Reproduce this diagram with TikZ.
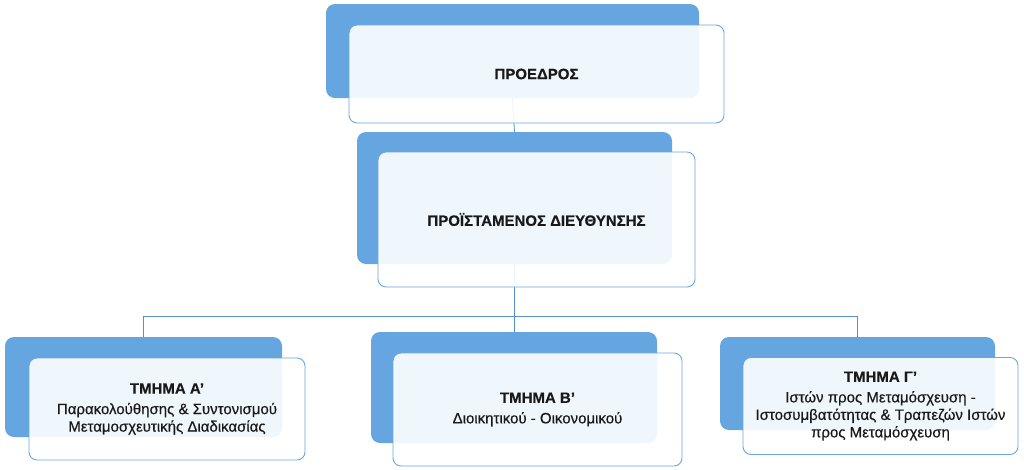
\documentclass[tikz,border=0pt]{standalone}
\usepackage{fontspec}
\setmainfont{Liberation Sans}
\newfontfamily\medfont[FakeBold=0.4]{Liberation Sans}
\usetikzlibrary{calc}

\definecolor{backblue}{RGB}{101,166,225}
\definecolor{edgeblue}{RGB}{108,166,222}
\definecolor{lineblue}{RGB}{84,146,206}
\definecolor{textgray}{RGB}{25,25,25}

\begin{document}
\begin{tikzpicture}[x=1pt,y=-1pt,
    backbox/.style={fill=backblue,rounded corners=9pt,inner sep=0pt},
    frontbox/.style={draw=edgeblue,line width=0.9pt,fill=white,fill opacity=0.9,text opacity=1,
        rounded corners=8pt,align=center,text=textgray,inner sep=0pt,
        font=\medfont\fontsize{15}{17.5}\selectfont},
    link/.style={draw=lineblue,line width=0.8pt}]

    \useasboundingbox (0,0) rectangle (1024,469);

    % Draw the blue back panels
    \node[backbox,minimum width=373pt,minimum height=94pt]  (presB) at (512.5,51)  {};
    \node[backbox,minimum width=315pt,minimum height=132pt] (dirB)  at (514.5,198) {};
    \node[backbox,minimum width=277pt,minimum height=100pt] (tmaB)  at (143.5,387) {};
    \node[backbox,minimum width=286pt,minimum height=111pt] (tmbB)  at (514,387.5) {};
    \node[backbox,minimum width=275pt,minimum height=93pt]  (tmcB)  at (857.5,383.5) {};

    % Draw the connectors
    \coordinate (bus) at ($(dirB.south)+(0,52)$);
    \draw[link] (presB.south) -- (dirB.north);
    \draw[link] (dirB.south) -- (bus);
    \draw[link] (tmaB.north) |- (bus) -| (tmcB.north);
    \draw[link] (bus) -- (bus |- tmbB.north);

    % Draw the front boxes
    \node[frontbox,minimum width=375pt,minimum height=98pt]  (pres) at (536.5,74)    {\textbf{ΠΡΟΕΔΡΟΣ}};
    \node[frontbox,minimum width=317pt,minimum height=135pt] (dir)  at (536.5,219.5) {\textbf{ΠΡΟΪΣΤΑΜΕΝΟΣ ΔΙΕΥΘΥΝΣΗΣ}};
    \node[frontbox,minimum width=276pt,minimum height=102pt] (tma)  at (167,409)     {\textbf{ΤΜΗΜΑ Α’}\\[3pt] Παρακολούθησης \& Συντονισμού\\ Μεταμοσχευτικής Διαδικασίας};
    \node[frontbox,minimum width=289pt,minimum height=113pt] (tmb)  at (537.5,409.5) {\textbf{ΤΜΗΜΑ Β’}\\[3pt] Διοικητικού - Οικονομικού};
    \node[frontbox,minimum width=275pt,minimum height=97pt]  (tmc)  at (880.5,406)   {\textbf{ΤΜΗΜΑ Γ’}\\[3pt] Ιστών προς Μεταμόσχευση -\\ Ιστοσυμβατότητας \& Τραπεζών Ιστών\\ προς Μεταμόσχευση};

\end{tikzpicture}
\end{document}
